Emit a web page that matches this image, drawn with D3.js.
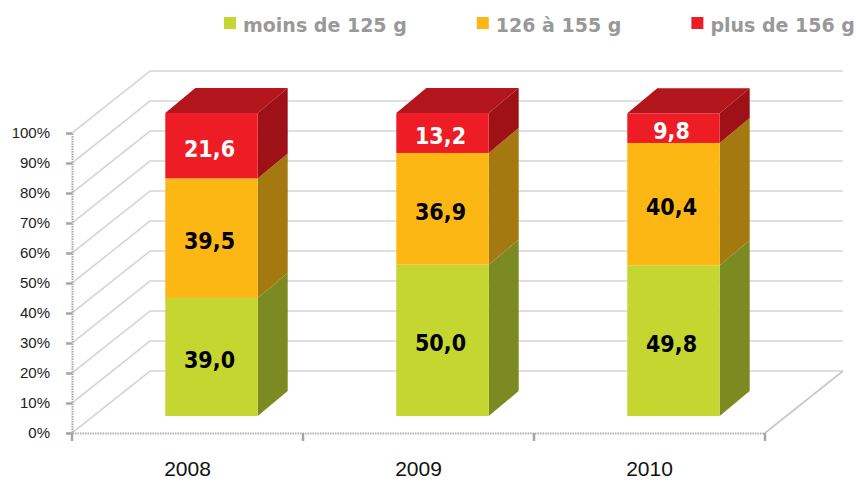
<!DOCTYPE html>
<html>
<head>
<meta charset="utf-8">
<script src="https://cdn.jsdelivr.net/npm/d3@7"></script>
<style>
  body { margin: 0; background: #fff; }
  svg { display: block; }
</style>
</head>
<body>
<svg id="chart" width="856" height="483"></svg>
<script>
// Chart data
const years = ["2008", "2009", "2010"];
const moins125 = [39.0, 50.0, 49.8];
const de126a155 = [39.5, 36.9, 40.4];
const plus156 = [21.6, 13.2, 9.8];
const seriesNames = ["moins de 125 g", "126 à 155 g", "plus de 156 g"];
const yTicks = [0, 10, 20, 30, 40, 50, 60, 70, 80, 90, 100];

// Colours per series: front, side, top
const colors = [
    { front: "#c5d631", side: "#7b8b22", top: "#9aab28" },
    { front: "#fdb714", side: "#a47a10", top: "#c89412" },
    { front: "#ee1c25", side: "#9d1117", top: "#b3151c" }
];

const svg = d3.select("#chart");

// Build rows for the stack
const keys = ["a", "b", "c"];
const rows = years.map((y, i) => ({ year: y, a: moins125[i], b: de126a155[i], c: plus156[i] }));
const stacked = d3.stack().keys(keys)(rows);

// Front plane scales
const x = d3.scaleBand()
    .domain(years)
    .range([72, 765])
    .padding(0);

const y = d3.scaleLinear()
    .domain([0, 100])
    .range([433, 133]);

// Scale for the bars, which sit a bit deeper than the front plane
const yBar = d3.scaleLinear()
    .domain([0, 100])
    .range([416, 113.3]);

// 3D offsets
const wall = { dx: 78, dy: -62 };     // full depth of the box
const barShift = { dx: 24, dy: -17 }; // front face of bars
const barDepth = { dx: 30, dy: -25 }; // thickness of bars
const barWidth = x.bandwidth() * 0.4;

// Back wall gridlines and left wall diagonals
const grid = svg.append("g");
yTicks.forEach(t => {
    grid.append("path")
        .attr("d", `M${x.range()[0]},${y(t)} L${x.range()[0] + wall.dx},${y(t) + wall.dy} L${x.range()[1] + wall.dx},${y(t) + wall.dy}`)
        .attr("fill", "none")
        .attr("stroke", "#d6d6d6")
        .attr("stroke-width", 1.6);
});

// Floor right edge
svg.append("line")
    .attr("x1", x.range()[1]).attr("y1", y(0))
    .attr("x2", x.range()[1] + wall.dx).attr("y2", y(0) + wall.dy)
    .attr("stroke", "#c8c8c8")
    .attr("stroke-width", 1.6);

// Bars
const bars = svg.append("g");
years.forEach((yr, i) => {
    const x0 = x(yr) + x.bandwidth() / 2 + barShift.dx - barWidth / 2;
    const x1 = x0 + barWidth;
    stacked.forEach((s, k) => {
        const d = s[i];
        const top = yBar(d[1]);
        const bot = yBar(d[0]);
        const c = colors[k];

        // side face
        bars.append("path")
            .attr("d", `M${x1},${bot} L${x1 + barDepth.dx},${bot + barDepth.dy} L${x1 + barDepth.dx},${top + barDepth.dy} L${x1},${top} Z`)
            .attr("fill", c.side);

        // front face
        bars.append("rect")
            .attr("x", x0)
            .attr("y", top)
            .attr("width", barWidth)
            .attr("height", bot - top)
            .attr("fill", c.front);

        // top face on the last segment only
        if (k === stacked.length - 1) {
            bars.append("path")
                .attr("d", `M${x0},${top} L${x0 + barDepth.dx},${top + barDepth.dy} L${x1 + barDepth.dx},${top + barDepth.dy} L${x1},${top} Z`)
                .attr("fill", c.top);
        }

        // value label
        bars.append("text")
            .attr("x", (x0 + x1) / 2 - 2)
            .attr("y", (top + bot) / 2 + 3)
            .attr("text-anchor", "middle")
            .attr("dominant-baseline", "central")
            .attr("font-family", "'DejaVu Sans Condensed', 'DejaVu Sans', sans-serif")
            .attr("font-stretch", "condensed")
            .attr("font-weight", "bold")
            .attr("font-size", "23px")
            .attr("fill", k === 2 ? "#fff" : "#000")
            .text(d3.format(".1f")(d[1] - d[0]).replace(".", ","));
    });
});

// Y axis
const yAxis = svg.append("g")
    .attr("transform", `translate(${x.range()[0]},0)`)
    .call(d3.axisLeft(y).tickValues(yTicks).tickFormat(d => d + "%").tickSize(6).tickPadding(16));
yAxis.select(".domain")
    .attr("stroke", "#a6a6a6")
    .attr("stroke-width", 2)
    .attr("stroke-dasharray", "1.5,1");
yAxis.selectAll(".tick line")
    .attr("stroke", "#a6a6a6")
    .attr("stroke-width", 2.5);
yAxis.selectAll(".tick text")
    .attr("font-family", "'Liberation Sans', Arial, sans-serif")
    .attr("font-size", "15px")
    .attr("fill", "#222");

// X axis (floor front edge)
const xAxis = svg.append("g")
    .attr("transform", `translate(0,${y(0)})`)
    .call(d3.axisBottom(x).tickSize(0).tickPadding(28));
xAxis.select(".domain")
    .attr("stroke", "#b0b0b0")
    .attr("stroke-width", 2)
    .attr("stroke-dasharray", "1.5,1");
xAxis.selectAll(".tick text")
    .attr("font-family", "'Liberation Sans', Arial, sans-serif")
    .attr("font-size", "21px")
    .attr("fill", "#111");

// Category boundary ticks on the floor edge
const bounds = years.map(d => x(d)).concat([x.range()[1]]);
svg.append("g").selectAll("line")
    .data(bounds)
    .enter().append("line")
    .attr("x1", d => d).attr("x2", d => d)
    .attr("y1", y(0)).attr("y2", y(0) + 8)
    .attr("stroke", "#a6a6a6")
    .attr("stroke-width", 2.5);

// Legend
const legend = svg.append("g");
let lx = 224;
seriesNames.forEach((name, k) => {
    legend.append("rect")
        .attr("x", lx)
        .attr("y", 17)
        .attr("width", 12)
        .attr("height", 12)
        .attr("fill", colors[k].front);
    const t = legend.append("text")
        .attr("x", lx + 19)
        .attr("y", 32)
        .attr("font-family", "'DejaVu Sans', Verdana, sans-serif")
        .attr("font-weight", "bold")
        .attr("font-size", "19px")
        .attr("fill", "#999")
        .text(name);
    lx += 19 + t.node().getComputedTextLength() + 70;
});
</script>
</body>
</html>
